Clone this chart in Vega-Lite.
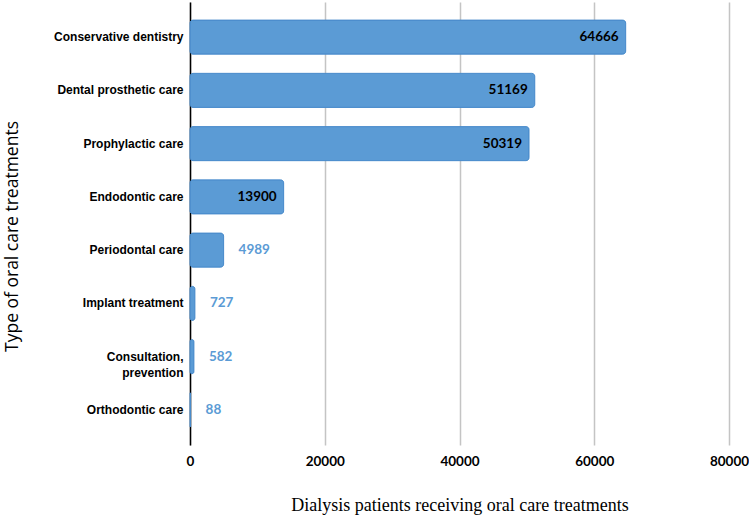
{
  "$schema": "https://vega.github.io/schema/vega-lite/v6.json",
  "width": 539,
  "height": 443,
  "autosize": {"type": "none"},
  "padding": {"left": 190, "top": 2, "right": 20, "bottom": 76},
  "background": "white",
  "config": {
    "view": {"stroke": null},
    "font": "Lato"
  },
  "data": {
    "values": [
      {"treatment": "Conservative dentistry", "patients": 64666},
      {"treatment": "Dental prosthetic care", "patients": 51169},
      {"treatment": "Prophylactic  care", "patients": 50319},
      {"treatment": "Endodontic care", "patients": 13900},
      {"treatment": "Periodontal care", "patients": 4989},
      {"treatment": "Implant treatment", "patients": 727},
      {"treatment": "Consultation,|prevention", "patients": 582},
      {"treatment": "Orthodontic care", "patients": 88}
    ]
  },
  "encoding": {
    "y": {
      "field": "treatment",
      "type": "nominal",
      "sort": null,
      "scale": {"paddingInner": 0.36, "paddingOuter": 0.34},
      "axis": {
        "title": "Type of oral care treatments",
        "titleFont": "Open Sans",
        "titleFontSize": 17.5,
        "titleFontWeight": "normal",
        "titleColor": "black",
        "titleX": -178,
        "titleY": 234,
        "titleAngle": -90,
        "titleAlign": "center",
        "titleBaseline": "middle",
        "labelExpr": "split(datum.label, '|')",
        "labelFont": "Liberation Sans",
        "labelFontSize": 12,
        "labelFontWeight": "bold",
        "labelColor": "black",
        "labelPadding": 7,
        "labelLineHeight": 16,
        "ticks": false,
        "domain": true,
        "domainColor": "black",
        "domainWidth": 1.5,
        "grid": false
      }
    },
    "x": {
      "field": "patients",
      "type": "quantitative",
      "scale": {"domain": [0, 80000], "nice": false},
      "axis": {
        "values": [0, 20000, 40000, 60000, 80000],
        "format": "d",
        "title": "Dialysis patients receiving oral care treatments",
        "titleFont": "Liberation Serif",
        "titleFontSize": 18,
        "titleFontWeight": "normal",
        "titleColor": "black",
        "titleY": 60,
        "titleBaseline": "middle",
        "labelFont": "Lato",
        "labelFontSize": 13.5,
        "labelFontWeight": "bold",
        "labelColor": "black",
        "labelPadding": 9,
        "labelFlush": false,
        "ticks": false,
        "domain": false,
        "grid": true,
        "gridColor": "#c4c4c4",
        "gridWidth": 1.5
      }
    }
  },
  "layer": [
    {
      "mark": {
        "type": "bar",
        "color": "#5b9bd5",
        "stroke": "#4a8ccc",
        "strokeWidth": 1,
        "cornerRadius": 3
      }
    },
    {
      "transform": [{"filter": "datum.patients >= 10000"}],
      "mark": {
        "type": "text",
        "align": "right",
        "baseline": "middle",
        "dx": -7,
        "font": "Lato",
        "fontSize": 13.5,
        "fontWeight": "bold",
        "color": "black"
      },
      "encoding": {"text": {"field": "patients", "type": "quantitative", "format": "d"}}
    },
    {
      "transform": [{"filter": "datum.patients < 10000"}],
      "mark": {
        "type": "text",
        "align": "left",
        "baseline": "middle",
        "dx": 15,
        "font": "Lato",
        "fontSize": 13.5,
        "fontWeight": "bold",
        "color": "#5b9bd5"
      },
      "encoding": {"text": {"field": "patients", "type": "quantitative", "format": "d"}}
    }
  ]
}
